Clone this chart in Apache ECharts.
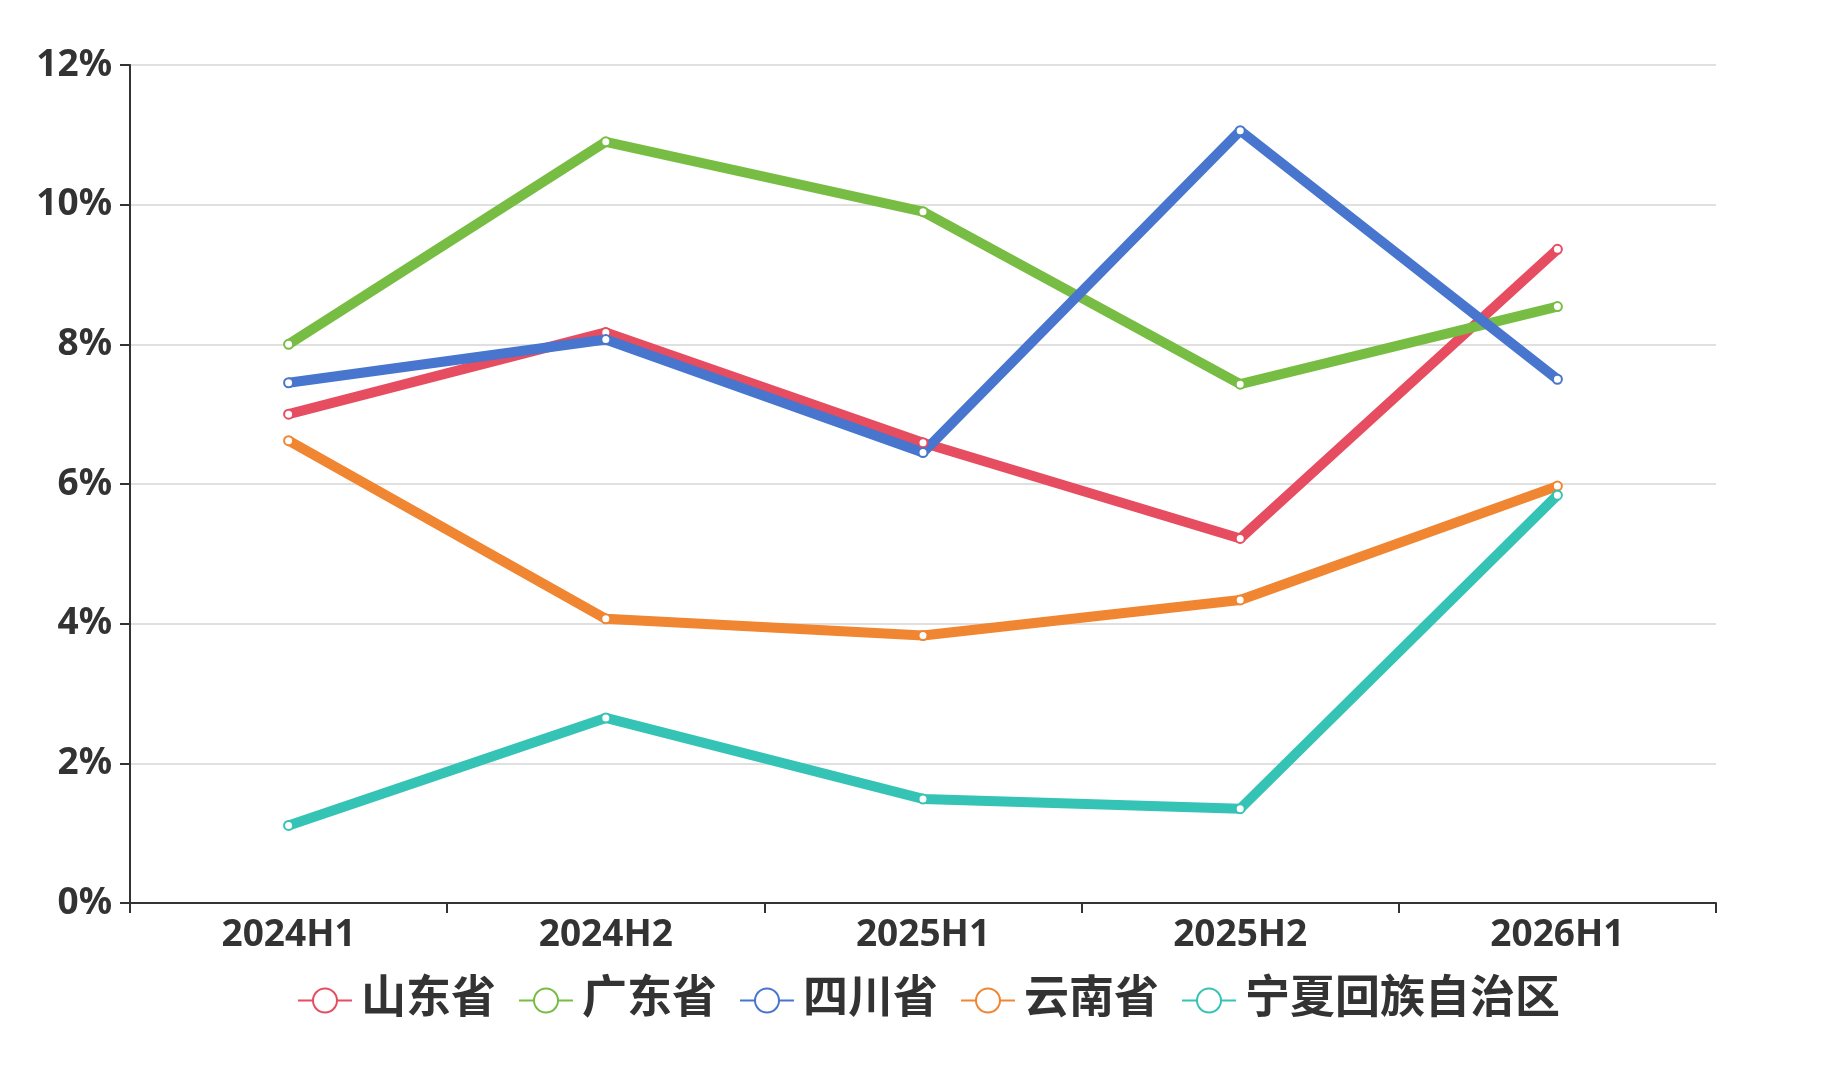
<!DOCTYPE html>
<html>
<head>
<meta charset="utf-8">
<script src="https://cdn.jsdelivr.net/npm/echarts@6/dist/echarts.min.js"></script>
<style>
  html, body { margin: 0; padding: 0; background: #fff; }
  #main { width: 1830px; height: 1078px; }
</style>
</head>
<body>
<div id="main"></div>
<script>
// 数据
var periods = ['2024H1', '2024H2', '2025H1', '2025H2', '2026H1'];
var provinces = ['山东省', '广东省', '四川省', '云南省', '宁夏回族自治区'];
var shandong = [7.0, 8.17, 6.59, 5.22, 9.36];
var guangdong = [8.0, 10.9, 9.9, 7.43, 8.54];
var sichuan = [7.45, 8.07, 6.45, 11.06, 7.5];
var yunnan = [6.62, 4.07, 3.83, 4.34, 5.97];
var ningxia = [1.11, 2.65, 1.49, 1.35, 5.84];
var colors = ['#e64d60', '#77bd43', '#4876ce', '#f08532', '#34c3b5'];

var seriesValues = [shandong, guangdong, sichuan, yunnan, ningxia];
var fontFamily = '"Noto Sans", "Noto Sans CJK SC", sans-serif';

var myChart = echarts.init(document.getElementById('main'));

var series = [];
for (var i = 0; i < provinces.length; i++) {
    series.push({
        name: provinces[i],
        type: 'line',
        data: seriesValues[i],
        symbol: 'emptyCircle',
        symbolSize: 9,
        lineStyle: { width: 10, color: colors[i] },
        itemStyle: { color: colors[i], borderWidth: 2 }
    });
}

var option = {
    color: colors,
    animation: false,
    textStyle: { fontFamily: fontFamily },
    grid: { left: 130, right: 114, top: 65, bottom: 175, containLabel: false },
    legend: {
        data: provinces,
        bottom: 50,
        left: 292,
        itemWidth: 54,
        itemHeight: 30,
        itemGap: 22,
        textStyle: { fontSize: 45, fontWeight: 'bold', color: '#333', fontFamily: fontFamily, padding: [0, 0, 0, 4] }
    },
    xAxis: {
        type: 'category',
        data: periods,
        boundaryGap: true,
        axisLine: { lineStyle: { color: '#333', width: 2 } },
        axisTick: { show: true, length: 10, lineStyle: { color: '#333', width: 2 } },
        axisLabel: { fontSize: 37, fontWeight: 'bold', color: '#333', margin: 14 }
    },
    yAxis: {
        type: 'value',
        min: 0,
        max: 12,
        interval: 2,
        axisLine: { show: true, lineStyle: { color: '#333', width: 2 } },
        axisTick: { show: true, length: 10, lineStyle: { color: '#333', width: 2 } },
        axisLabel: { formatter: '{value}%', fontSize: 37, fontWeight: 'bold', color: '#333', margin: 18 },
        splitLine: { lineStyle: { color: '#e0e0e0', width: 2 } }
    },
    series: series
};

myChart.setOption(option);
</script>
</body>
</html>
